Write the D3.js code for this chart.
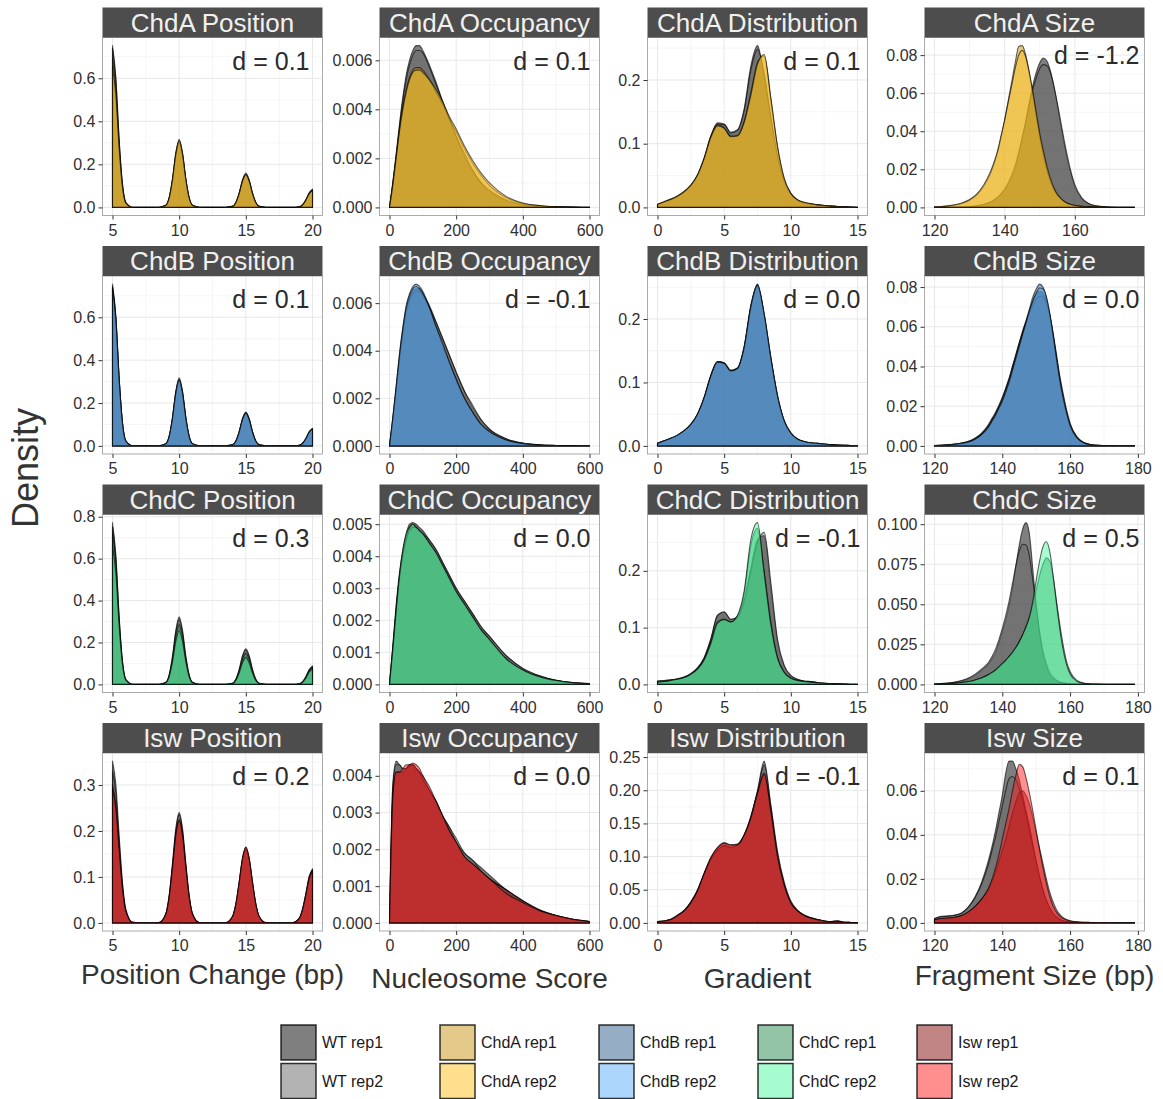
<!DOCTYPE html>
<html><head><meta charset="utf-8">
<script src="https://cdn.jsdelivr.net/npm/d3@7"></script>
<style>body{margin:0;background:#fff;} svg{display:block;}</style>
</head><body>
<svg id="chart" width="1163" height="1099"></svg>
<script>
// ---------------- categories / labels ----------------
const mutants = ["ChdA", "ChdB", "ChdC", "Isw"];
const metrics = ["Position", "Occupancy", "Distribution", "Size"];
const xTitles = ["Position Change (bp)", "Nucleosome Score", "Gradient", "Fragment Size (bp)"];
const yTitle = "Density";
const legendLabels = ["WT rep1","WT rep2","ChdA rep1","ChdA rep2","ChdB rep1","ChdB rep2","ChdC rep1","ChdC rep2","Isw rep1","Isw rep2"];
const wtColors = ["#000000", "#676767"];
const chdAColors = ["#c79515", "#fbbf1d"];
const chdBColors = ["#2b5d8d", "#59adf7"];
const chdCColors = ["#298951", "#4df79f"];
const iswColors = ["#830b0b", "#ff1f1f"];

const dChdA = ["d = 0.1", "d = 0.1", "d = 0.1", "d = -1.2"];
const dChdB = ["d = 0.1", "d = -0.1", "d = 0.0", "d = 0.0"];
const dChdC = ["d = 0.3", "d = 0.0", "d = -0.1", "d = 0.5"];
const dIsw  = ["d = 0.2", "d = 0.0", "d = -0.1", "d = 0.1"];

// tick labels
const xTicksPos = ["5","10","15","20"];
const xTicksOcc = ["0","200","400","600"];
const xTicksDist = ["0","5","10","15"];
const xTicksSizeA = ["120","140","160"];
const xTicksSize = ["120","140","160","180"];
const yTicksChdA = [["0.0","0.2","0.4","0.6"], ["0.000","0.002","0.004","0.006"], ["0.0","0.1","0.2"], ["0.00","0.02","0.04","0.06","0.08"]];
const yTicksChdB = [["0.0","0.2","0.4","0.6"], ["0.000","0.002","0.004","0.006"], ["0.0","0.1","0.2"], ["0.00","0.02","0.04","0.06","0.08"]];
const yTicksChdC = [["0.0","0.2","0.4","0.6","0.8"], ["0.000","0.001","0.002","0.003","0.004","0.005"], ["0.0","0.1","0.2"], ["0.000","0.025","0.050","0.075","0.100"]];
const yTicksIsw  = [["0.0","0.1","0.2","0.3"], ["0.000","0.001","0.002","0.003","0.004"], ["0.00","0.05","0.10","0.15","0.20","0.25"], ["0.00","0.02","0.04","0.06"]];

// ---------------- x grids ----------------
const posX = [5,5.25,5.5,5.75,6,6.5,7.5,8.5,9,9.25,9.5,9.75,10,10.25,10.5,10.75,11,11.5,12.5,13.5,14,14.25,14.5,14.75,15,15.25,15.5,15.75,16,16.5,17.5,18.5,19,19.25,19.5,19.75,20];
const occX = [0,10,20,30,40,50,60,70,80,90,100,120,140,160,180,200,225,250,275,300,350,400,450,500,550,600];
const distX = [0,0.5,1,1.5,2,2.5,3,3.5,4,4.5,5,5.5,6,6.5,7,7.5,8,8.5,9,9.5,10,10.5,11,11.5,12,12.5,13,13.5,14,14.5,15];
const sizeXA = [120,122,124,126,128,130,132,134, 136,137,138,139,140,141,142,143,144,145,146,147,148,149,150,151,152,153,154,155,156,157,158,159,160, 162,164,166,168,170,173,177];
const sizeX  = [120,122,124,126,128,130,132,134, 136,137,138,139,140,141,142,143,144,145,146,147,148,149,150,151,152,153,154,155,156,157,158,159,160, 162,164,166,168,170,174,179];

// ---------------- Position ----------------
const posA_wt1 = [0.752,0.605,0.316,0.108,0.023,0.001,0,0.001,0.0096,0.0443,0.130,0.250,0.31,0.250,0.130,0.0443,0.0096,0.001,0,0.001,0.0048,0.0222,0.0651,0.125,0.155,0.125,0.0651,0.0222,0.0048,0.001,0,0,0.0025,0.0117,0.0344,0.066,0.082];
const posA_wt2 = [0.74,0.596,0.311,0.106,0.023,0.001,0,0.001,0.0098,0.0452,0.133,0.254,0.316,0.254,0.133,0.0452,0.0098,0.001,0,0.001,0.005,0.0229,0.0672,0.129,0.16,0.129,0.0672,0.0229,0.005,0.001,0,0,0.0026,0.0122,0.0357,0.0684,0.085];
const posA_m1 = [0.69,0.555,0.290,0.0987,0.0214,0.001,0,0.001,0.0093,0.0429,0.126,0.2415,0.30,0.2415,0.126,0.0429,0.0093,0.001,0,0.001,0.0047,0.0215,0.063,0.121,0.15,0.121,0.063,0.0215,0.0047,0.001,0,0,0.0025,0.0114,0.0336,0.0644,0.08];
const posA_m2 = [0.65,0.523,0.273,0.093,0.020,0.001,0,0.001,0.0096,0.0443,0.130,0.250,0.31,0.250,0.130,0.0443,0.0096,0.001,0,0.001,0.0047,0.0217,0.0638,0.122,0.152,0.122,0.0638,0.0217,0.0047,0.001,0,0,0.0024,0.0112,0.0328,0.0628,0.078];

const posB_wt1 = [0.755,0.608,0.317,0.108,0.0234,0.001,0,0.001,0.0097,0.0446,0.131,0.251,0.312,0.251,0.131,0.0446,0.0097,0.001,0,0.001,0.0048,0.0223,0.0655,0.1256,0.156,0.1256,0.0655,0.0223,0.0048,0.001,0,0,0.0025,0.0114,0.0336,0.0644,0.08];
const posB_wt2 = [0.745,0.600,0.313,0.1065,0.0231,0.001,0,0.001,0.0099,0.0455,0.1336,0.256,0.318,0.256,0.1336,0.0455,0.0099,0.001,0,0.001,0.0049,0.0226,0.0664,0.1272,0.158,0.1272,0.0664,0.0226,0.0049,0.001,0,0,0.0025,0.0117,0.0344,0.066,0.082];
const posB_m1 = [0.74,0.596,0.311,0.106,0.023,0.001,0,0.001,0.0096,0.0443,0.130,0.250,0.31,0.250,0.130,0.0443,0.0096,0.001,0,0.001,0.0048,0.0222,0.0651,0.125,0.155,0.125,0.0651,0.0222,0.0048,0.001,0,0,0.0025,0.0114,0.0336,0.0644,0.08];
const posB_m2 = [0.73,0.588,0.307,0.104,0.0226,0.001,0,0.001,0.0095,0.0436,0.128,0.2455,0.305,0.2455,0.128,0.0436,0.0095,0.001,0,0.001,0.0047,0.0217,0.0638,0.122,0.152,0.122,0.0638,0.0217,0.0047,0.001,0,0,0.0024,0.0113,0.0332,0.0636,0.079];

const posC_wt1 = [0.772,0.621,0.324,0.110,0.0239,0.001,0,0.001,0.010,0.046,0.135,0.259,0.322,0.259,0.135,0.046,0.010,0.001,0,0.001,0.0053,0.0243,0.0714,0.137,0.17,0.137,0.0714,0.0243,0.0053,0.001,0,0,0.0027,0.0126,0.037,0.0708,0.088];
const posC_wt2 = [0.75,0.604,0.315,0.107,0.0233,0.001,0,0.001,0.0096,0.0443,0.130,0.250,0.31,0.250,0.130,0.0443,0.0096,0.001,0,0.001,0.0051,0.0236,0.0693,0.133,0.165,0.133,0.0693,0.0236,0.0051,0.001,0,0,0.0026,0.0122,0.0357,0.0684,0.085];
const posC_m1 = [0.72,0.580,0.302,0.103,0.0223,0.001,0,0.001,0.0088,0.0408,0.120,0.229,0.285,0.229,0.120,0.0408,0.0088,0.001,0,0.001,0.0046,0.0212,0.0622,0.119,0.148,0.119,0.0622,0.0212,0.0046,0.001,0,0,0.0025,0.0114,0.0336,0.0644,0.08];
const posC_m2 = [0.66,0.531,0.277,0.0944,0.0205,0.001,0,0.001,0.0079,0.0365,0.107,0.205,0.255,0.205,0.107,0.0365,0.0079,0.001,0,0.001,0.004,0.0183,0.0538,0.103,0.128,0.103,0.0538,0.0183,0.004,0.001,0,0,0.0022,0.0103,0.0302,0.058,0.072];

const posI_wt1 = [0.352,0.302,0.190,0.088,0.030,0.0014,0,0.001,0.020,0.060,0.130,0.206,0.24,0.206,0.130,0.060,0.020,0.001,0,0.0007,0.014,0.041,0.089,0.141,0.165,0.141,0.089,0.041,0.014,0.0007,0,0.0005,0.010,0.030,0.064,0.101,0.118];
const posI_wt2 = [0.33,0.283,0.178,0.083,0.028,0.0013,0,0.001,0.020,0.059,0.127,0.201,0.235,0.201,0.127,0.059,0.020,0.001,0,0.0006,0.014,0.041,0.087,0.139,0.162,0.139,0.087,0.041,0.014,0.0006,0,0.0005,0.0098,0.029,0.062,0.099,0.115];
const posI_m1 = [0.30,0.257,0.162,0.075,0.026,0.0012,0,0.001,0.019,0.056,0.122,0.193,0.225,0.193,0.122,0.056,0.019,0.001,0,0.0006,0.0136,0.040,0.086,0.137,0.16,0.137,0.086,0.040,0.0136,0.0006,0,0.0005,0.0098,0.029,0.062,0.099,0.115];
const posI_m2 = [0.29,0.249,0.157,0.073,0.025,0.0012,0,0.001,0.019,0.056,0.120,0.190,0.222,0.190,0.120,0.056,0.019,0.001,0,0.0007,0.014,0.041,0.089,0.141,0.165,0.141,0.089,0.041,0.014,0.0007,0,0.0004,0.0095,0.028,0.060,0.096,0.112];

// ---------------- Occupancy ----------------
const occA_wt1 = [0,0.0010,0.0022,0.0034,0.0045,0.0054,0.0060,0.0064,0.0066,0.0066,0.0064,0.0058,0.0051,0.0043,0.0036,0.0029,0.0021,0.0015,0.0010,0.00066,0.00028,0.00011,0.00005,0.00002,0.00001,0.000005];
const occA_wt2 = [0,0.0010,0.0021,0.0033,0.0044,0.0052,0.0058,0.0062,0.0064,0.0064,0.0063,0.0057,0.0050,0.0043,0.0036,0.0029,0.0022,0.0015,0.0010,0.0007,0.0003,0.00012,0.00005,0.00002,0.00001,0.000005];
const occA_m1 = [0,0.0010,0.0021,0.0032,0.0041,0.0048,0.0053,0.0056,0.0057,0.0057,0.0056,0.0052,0.0047,0.0042,0.0036,0.0031,0.0024,0.0018,0.0013,0.0009,0.0004,0.00016,0.00007,0.00003,0.00001,0.000005];
const occA_m2 = [0,0.0009,0.0020,0.0031,0.0040,0.0047,0.0052,0.0055,0.0056,0.0056,0.0055,0.0052,0.0048,0.0043,0.0037,0.0032,0.0025,0.0019,0.0014,0.0010,0.00045,0.00018,0.00008,0.00003,0.00001,0.000005];

const occB_wt1 = [0,0.0011,0.0024,0.0037,0.0048,0.0057,0.0062,0.0065,0.0066,0.0066,0.0064,0.0059,0.0052,0.0045,0.0038,0.0031,0.0023,0.0016,0.0011,0.0007,0.0003,0.00012,0.00005,0.00002,0.00001,0.000005];
const occB_wt2 = [0,0.0011,0.0023,0.0036,0.0047,0.0056,0.0061,0.0064,0.0065,0.0065,0.0063,0.0058,0.0052,0.0045,0.0038,0.0031,0.0023,0.0017,0.0011,0.0007,0.0003,0.00012,0.00005,0.00002,0.00001,0.000005];
const occB_m1 = [0,0.0012,0.0025,0.0039,0.0050,0.0059,0.0064,0.0067,0.0068,0.0067,0.0065,0.0058,0.0050,0.0042,0.0035,0.0028,0.0020,0.0014,0.0009,0.0006,0.00025,0.0001,0.00004,0.00002,0.00001,0.000005];
const occB_m2 = [0,0.0012,0.0025,0.0038,0.0049,0.0058,0.0063,0.0066,0.0067,0.0066,0.0064,0.0058,0.0050,0.0043,0.0035,0.0028,0.0020,0.0014,0.0009,0.0006,0.00025,0.0001,0.00004,0.00002,0.00001,0.000005];

const occC_wt1 = [0,0.0012,0.0025,0.0035,0.0042,0.0047,0.0050,0.00505,0.0050,0.0049,0.0048,0.0045,0.0042,0.0038,0.0034,0.0030,0.0026,0.0022,0.0018,0.0015,0.0009,0.0005,0.00027,0.00013,0.00006,0.00003];
const occC_wt2 = [0,0.0012,0.0024,0.0034,0.0041,0.0046,0.0049,0.0050,0.0049,0.0048,0.0047,0.0045,0.0042,0.0038,0.0034,0.0030,0.0026,0.0022,0.0018,0.0015,0.0009,0.0005,0.00027,0.00013,0.00006,0.00003];
const occC_m1 = [0,0.0011,0.0023,0.0033,0.0040,0.0045,0.0048,0.0049,0.0049,0.0048,0.0047,0.0044,0.0041,0.0037,0.0033,0.0029,0.0025,0.0021,0.0017,0.0014,0.0008,0.00045,0.00024,0.00012,0.00005,0.00002];
const occC_m2 = [0,0.0011,0.0023,0.0034,0.0042,0.0047,0.0049,0.0050,0.0049,0.0048,0.0047,0.0044,0.0041,0.0037,0.0033,0.0029,0.0025,0.0021,0.0017,0.0014,0.0008,0.00045,0.00024,0.00012,0.00005,0.00002];

const occI_wt1 = [0,0.0038,0.0044,0.0043,0.0042,0.0042,0.0043,0.0043,0.0042,0.0041,0.0039,0.0036,0.0033,0.0029,0.0026,0.0022,0.0019,0.0017,0.0015,0.0013,0.0009,0.0006,0.00036,0.0002,0.0001,0.00004];
const occI_wt2 = [0,0.0037,0.0043,0.0043,0.0042,0.0042,0.00425,0.0043,0.0042,0.0041,0.0039,0.0036,0.0033,0.0029,0.0026,0.0023,0.0019,0.0017,0.0014,0.0012,0.0009,0.0006,0.00035,0.0002,0.0001,0.00004];
const occI_m1 = [0,0.0035,0.0041,0.0041,0.0041,0.0042,0.0043,0.0043,0.0042,0.0041,0.0040,0.0036,0.0033,0.0029,0.0025,0.0022,0.0018,0.0016,0.0014,0.0012,0.0009,0.0006,0.00035,0.0002,0.0001,0.00004];
const occI_m2 = [0,0.0034,0.0041,0.0041,0.0042,0.0043,0.0043,0.00435,0.0043,0.0042,0.0040,0.0037,0.0033,0.0029,0.0025,0.0022,0.0018,0.0016,0.0014,0.0012,0.0008,0.00055,0.00033,0.0002,0.0001,0.00004];

// ---------------- Distribution ----------------
const distA_wt1 = [0.004,0.008,0.012,0.017,0.024,0.034,0.050,0.077,0.112,0.133, 0.131,0.118,0.122,0.155,0.222,0.254,0.205,0.140,0.080,0.040, 0.020,0.011,0.007,0.005,0.004,0.003,0.002,0.0015,0.001,0.0005, 0.0002];
const distA_wt2 = [0.004,0.008,0.012,0.017,0.024,0.034,0.050,0.076,0.110,0.131, 0.130,0.117,0.121,0.152,0.215,0.248,0.210,0.142,0.082,0.041, 0.021,0.011,0.007,0.005,0.004,0.003,0.002,0.0015,0.001,0.0005, 0.0002];
const distA_m1 = [0.005,0.009,0.013,0.018,0.025,0.035,0.051,0.078,0.112,0.130, 0.125,0.112,0.113,0.135,0.180,0.228,0.238,0.170,0.095,0.045, 0.022,0.012,0.008,0.006,0.004,0.003,0.002,0.0015,0.001,0.0005, 0.0002];
const distA_m2 = [0.005,0.009,0.013,0.018,0.025,0.035,0.051,0.077,0.110,0.128, 0.124,0.111,0.112,0.133,0.176,0.225,0.240,0.172,0.096,0.046, 0.022,0.012,0.008,0.006,0.004,0.003,0.002,0.0015,0.001,0.0005, 0.0002];

const distB_wt1 = [0.004,0.008,0.012,0.017,0.024,0.034,0.050,0.077,0.112,0.133, 0.131,0.119,0.123,0.157,0.222,0.254,0.205,0.138,0.078,0.039, 0.020,0.011,0.007,0.005,0.004,0.003,0.002,0.0015,0.001,0.0005, 0.0002];
const distB_wt2 = [0.004,0.008,0.012,0.017,0.024,0.034,0.050,0.076,0.110,0.132, 0.130,0.118,0.122,0.155,0.218,0.251,0.208,0.140,0.080,0.040, 0.021,0.011,0.007,0.005,0.004,0.003,0.002,0.0015,0.001,0.0005, 0.0002];
const distB_m1 = [0.004,0.008,0.012,0.017,0.024,0.034,0.050,0.076,0.111,0.133, 0.131,0.119,0.123,0.156,0.220,0.255,0.207,0.138,0.078,0.039, 0.020,0.011,0.007,0.005,0.004,0.003,0.002,0.0015,0.001,0.0005, 0.0002];
const distB_m2 = [0.004,0.008,0.012,0.017,0.024,0.034,0.050,0.076,0.110,0.132, 0.130,0.118,0.122,0.155,0.219,0.253,0.208,0.139,0.079,0.040, 0.020,0.011,0.007,0.005,0.004,0.003,0.002,0.0015,0.001,0.0005, 0.0002];

const distC_wt1 = [0.006,0.007,0.008,0.010,0.013,0.019,0.029,0.047,0.080,0.122, 0.127,0.114,0.120,0.150,0.205,0.255,0.262,0.170,0.075,0.032, 0.015,0.009,0.006,0.005,0.003,0.002,0.0015,0.001,0.0007,0.0004, 0.0002];
const distC_wt2 = [0.006,0.007,0.008,0.010,0.013,0.019,0.029,0.047,0.080,0.121, 0.128,0.115,0.118,0.145,0.198,0.250,0.268,0.180,0.080,0.034, 0.016,0.009,0.006,0.005,0.003,0.002,0.0015,0.001,0.0007,0.0004, 0.0002];
const distC_m1 = [0.004,0.005,0.007,0.009,0.012,0.018,0.027,0.044,0.074,0.110, 0.115,0.110,0.120,0.160,0.245,0.275,0.200,0.110,0.048,0.022, 0.011,0.007,0.005,0.004,0.003,0.002,0.0012,0.0008,0.0005,0.0003, 0.0001];
const distC_m2 = [0.004,0.005,0.007,0.009,0.012,0.018,0.027,0.043,0.072,0.108, 0.114,0.110,0.122,0.165,0.255,0.285,0.195,0.105,0.046,0.021, 0.011,0.007,0.005,0.004,0.003,0.002,0.0012,0.0008,0.0005,0.0003, 0.0001];

const distI_wt1 = [0.002,0.003,0.0055,0.012,0.019,0.032,0.050,0.075,0.097,0.110, 0.117,0.114,0.118,0.133,0.160,0.200,0.244,0.176,0.105,0.060, 0.032,0.019,0.012,0.008,0.005,0.003,0.002,0.003,0.001,0.0007, 0.0005];
const distI_wt2 = [0.002,0.003,0.0055,0.011,0.019,0.031,0.049,0.074,0.096,0.109, 0.116,0.114,0.117,0.132,0.160,0.198,0.238,0.178,0.108,0.062, 0.033,0.019,0.012,0.008,0.005,0.003,0.002,0.003,0.001,0.0007, 0.0005];
const distI_m1 = [0.002,0.003,0.005,0.011,0.018,0.031,0.049,0.075,0.099,0.114, 0.121,0.118,0.119,0.133,0.160,0.196,0.226,0.170,0.100,0.057, 0.030,0.018,0.011,0.007,0.005,0.003,0.002,0.0025,0.001,0.0007, 0.0005];
const distI_m2 = [0.002,0.003,0.005,0.011,0.018,0.030,0.048,0.074,0.098,0.113, 0.120,0.117,0.118,0.132,0.158,0.195,0.224,0.168,0.100,0.057, 0.030,0.018,0.011,0.007,0.005,0.003,0.002,0.0025,0.001,0.0007, 0.0005];

// ---------------- Size ----------------
const sizeA_wt1 = [0.0001,0.0001,0.0002,0.0002,0.0003,0.0004,0.0008,0.0015,
  0.0027,0.0037,0.005,0.0068,0.009,0.012,0.016,0.021,0.028,0.036,0.045,0.055,0.064,0.071,0.076,0.0784,0.077,0.072,0.064,0.054,0.043,0.033,0.024,0.017,0.011,
  0.0045,0.0018,0.0008,0.0004,0.0002,0.0001,0];
const sizeA_wt2 = [0.0001,0.0001,0.0002,0.0002,0.0003,0.0005,0.0009,0.0017,
  0.003,0.004,0.0055,0.0074,0.0098,0.013,0.017,0.022,0.029,0.037,0.045,0.054,0.062,0.068,0.073,0.075,0.0745,0.071,0.064,0.055,0.045,0.035,0.026,0.018,0.012,
  0.005,0.002,0.0009,0.0004,0.0002,0.0001,0];
const sizeA_m1 = [0.0003,0.0005,0.0008,0.0013,0.0022,0.0038,0.0065,0.011,
  0.018,0.023,0.029,0.037,0.046,0.056,0.066,0.076,0.0845,0.0850,0.080,0.071,0.060,0.048,0.037,0.028,0.020,0.014,0.0095,0.0065,0.0045,0.003,0.002,0.0014,0.001,
  0.0006,0.0004,0.0003,0.0002,0.0001,0.0001,0];
const sizeA_m2 = [0.0003,0.0005,0.0009,0.0015,0.0025,0.0042,0.007,0.0118,
  0.019,0.024,0.030,0.038,0.046,0.055,0.064,0.073,0.080,0.0825,0.079,0.071,0.061,0.050,0.039,0.030,0.022,0.0155,0.0105,0.007,0.0048,0.0032,0.0021,0.0015,0.001,
  0.0006,0.0004,0.0003,0.0002,0.0001,0.0001,0];

const sizeB_wt1 = [0.0002,0.0003,0.0005,0.0009,0.0014,0.0022,0.0038,0.0064,
  0.0105,0.0135,0.0165,0.020,0.024,0.029,0.034,0.040,0.046,0.052,0.058,0.063,0.068,0.073,0.0765,0.078,0.077,0.073,0.066,0.056,0.045,0.034,0.025,0.017,0.011,
  0.0045,0.0017,0.0007,0.0003,0.0002,0.0001,0];
const sizeB_wt2 = [0.0002,0.0003,0.0005,0.0009,0.0014,0.0023,0.004,0.0066,
  0.011,0.014,0.017,0.0205,0.0245,0.029,0.034,0.040,0.046,0.052,0.057,0.062,0.067,0.071,0.074,0.0755,0.075,0.072,0.066,0.057,0.046,0.035,0.026,0.018,0.0115,
  0.0047,0.0018,0.0007,0.0003,0.0002,0.0001,0];
const sizeB_m1 = [0.0002,0.0003,0.0005,0.0008,0.0013,0.002,0.0035,0.006,
  0.010,0.013,0.016,0.0195,0.023,0.028,0.033,0.039,0.045,0.051,0.057,0.063,0.069,0.075,0.079,0.0815,0.080,0.075,0.066,0.055,0.043,0.032,0.023,0.016,0.010,
  0.004,0.0015,0.0006,0.0003,0.0002,0.0001,0];
const sizeB_m2 = [0.0002,0.0003,0.0005,0.0008,0.0013,0.002,0.0034,0.0058,
  0.0097,0.0125,0.0155,0.019,0.0225,0.027,0.032,0.038,0.044,0.050,0.056,0.062,0.068,0.073,0.077,0.0795,0.079,0.075,0.067,0.056,0.044,0.033,0.024,0.0165,0.0105,
  0.0042,0.0016,0.0006,0.0003,0.0002,0.0001,0];

const sizeC_wt1 = [0.0003,0.0005,0.0008,0.0013,0.0022,0.0036,0.0058,0.0090,
  0.013,0.016,0.020,0.026,0.033,0.040,0.049,0.060,0.074,0.087,0.097,0.101,0.094,0.072,0.050,0.032,0.019,0.011,0.006,0.0035,0.002,0.0012,0.0008,0.0005,0.0003,
  0.0002,0.0001,0.0001,0,0,0,0];
const sizeC_wt2 = [0.0003,0.0005,0.0009,0.0015,0.0025,0.004,0.0064,0.0098,
  0.014,0.0175,0.022,0.028,0.035,0.043,0.052,0.063,0.074,0.083,0.0875,0.087,0.080,0.065,0.048,0.033,0.021,0.013,0.0075,0.0045,0.0026,0.0015,0.0009,0.0006,0.0004,
  0.0002,0.0001,0.0001,0,0,0,0];
const sizeC_m1 = [0.0002,0.0003,0.0005,0.0008,0.0012,0.0018,0.0028,0.0042,
  0.0062,0.0075,0.009,0.011,0.013,0.015,0.0175,0.020,0.023,0.027,0.031,0.036,0.042,0.050,0.059,0.068,0.075,0.079,0.077,0.067,0.052,0.037,0.024,0.014,0.008,
  0.0025,0.0009,0.0004,0.0002,0.0001,0.0001,0];
const sizeC_m2 = [0.0002,0.0003,0.0005,0.0008,0.0012,0.0018,0.0028,0.0042,
  0.0062,0.0075,0.009,0.011,0.013,0.015,0.0175,0.020,0.023,0.0265,0.031,0.036,0.042,0.052,0.065,0.077,0.086,0.089,0.083,0.068,0.050,0.034,0.021,0.012,0.0065,
  0.002,0.0007,0.0003,0.0002,0.0001,0.0001,0];

const sizeI_wt1 = [0.002,0.003,0.0032,0.0036,0.0045,0.0073,0.012,0.019,
  0.029,0.035,0.042,0.050,0.058,0.068,0.0735,0.0735,0.070,0.065,0.058,0.051,0.044,0.036,0.028,0.021,0.015,0.010,0.0065,0.004,0.0025,0.0015,0.001,0.0006,0.0004,
  0.0002,0.0001,0.0001,0,0,0,0];
const sizeI_wt2 = [0.002,0.0028,0.003,0.0035,0.0045,0.0072,0.0115,0.018,
  0.027,0.033,0.039,0.046,0.053,0.060,0.0655,0.0665,0.065,0.061,0.056,0.049,0.042,0.035,0.028,0.021,0.015,0.0105,0.007,0.0045,0.0028,0.0017,0.001,0.0007,0.0004,
  0.0002,0.0001,0.0001,0,0,0,0];
const sizeI_m1 = [0.0015,0.002,0.0022,0.0026,0.0034,0.005,0.0075,0.011,
  0.0155,0.019,0.023,0.028,0.033,0.038,0.044,0.050,0.055,0.059,0.060,0.058,0.054,0.048,0.041,0.034,0.027,0.020,0.014,0.0095,0.006,0.0038,0.0024,0.0015,0.001,
  0.0005,0.0003,0.0002,0.0001,0.0001,0,0];
const sizeI_m2 = [0.0015,0.002,0.0022,0.0026,0.0034,0.005,0.0075,0.011,
  0.016,0.020,0.025,0.031,0.038,0.045,0.052,0.060,0.067,0.072,0.071,0.066,0.059,0.051,0.042,0.033,0.025,0.018,0.012,0.0075,0.0048,0.003,0.002,0.0013,0.0009,
  0.0005,0.0003,0.0002,0.0001,0.0001,0,0];

// ---------------- assemble panels from the named arrays ----------------
const panelRows = [
  { colors: chdAColors, d: dChdA, yt: yTicksChdA, panels: [
    { x: posX, xt: xTicksPos, s: [posA_wt1, posA_wt2, posA_m1, posA_m2] },
    { x: occX, xt: xTicksOcc, s: [occA_wt1, occA_wt2, occA_m1, occA_m2] },
    { x: distX, xt: xTicksDist, s: [distA_wt1, distA_wt2, distA_m1, distA_m2] },
    { x: sizeXA, xt: xTicksSizeA, s: [sizeA_wt1, sizeA_wt2, sizeA_m1, sizeA_m2] } ] },
  { colors: chdBColors, d: dChdB, yt: yTicksChdB, panels: [
    { x: posX, xt: xTicksPos, s: [posB_wt1, posB_wt2, posB_m1, posB_m2] },
    { x: occX, xt: xTicksOcc, s: [occB_wt1, occB_wt2, occB_m1, occB_m2] },
    { x: distX, xt: xTicksDist, s: [distB_wt1, distB_wt2, distB_m1, distB_m2] },
    { x: sizeX, xt: xTicksSize, s: [sizeB_wt1, sizeB_wt2, sizeB_m1, sizeB_m2] } ] },
  { colors: chdCColors, d: dChdC, yt: yTicksChdC, panels: [
    { x: posX, xt: xTicksPos, s: [posC_wt1, posC_wt2, posC_m1, posC_m2] },
    { x: occX, xt: xTicksOcc, s: [occC_wt1, occC_wt2, occC_m1, occC_m2] },
    { x: distX, xt: xTicksDist, s: [distC_wt1, distC_wt2, distC_m1, distC_m2] },
    { x: sizeX, xt: xTicksSize, s: [sizeC_wt1, sizeC_wt2, sizeC_m1, sizeC_m2] } ] },
  { colors: iswColors, d: dIsw, yt: yTicksIsw, panels: [
    { x: posX, xt: xTicksPos, s: [posI_wt1, posI_wt2, posI_m1, posI_m2] },
    { x: occX, xt: xTicksOcc, s: [occI_wt1, occI_wt2, occI_m1, occI_m2] },
    { x: distX, xt: xTicksDist, s: [distI_wt1, distI_wt2, distI_m1, distI_m2] },
    { x: sizeX, xt: xTicksSize, s: [sizeI_wt1, sizeI_wt2, sizeI_m1, sizeI_m2] } ] }
];

// ---------------- drawing ----------------
const FONT = "'Liberation Sans', Arial, Helvetica, sans-serif";
const svg = d3.select("#chart");
svg.append("rect").attr("width", 1163).attr("height", 1099).attr("fill", "#ffffff");

const colLeft = [102.5, 379.5, 647.5, 924.5];
const stripTop = [7.5, 246, 484.5, 723];
const PW = 220, PH = 178, SH = 30;
const labelInset = [13, 9, 7, 5];

function minorTicks(t, dom) {
  const step = t[1] - t[0];
  const out = [];
  for (let k = -1; k <= t.length; k++) {
    const v = t[0] + step * (k + 0.5);
    if (v > dom[0] && v < dom[1]) out.push(v);
  }
  return out;
}

panelRows.forEach((row, r) => {
  row.panels.forEach((p, c) => {
    const left = colLeft[c], right = left + PW;
    const st = stripTop[r], top = st + SH, bottom = top + PH;
    const [x0, x1] = d3.extent(p.x);
    const xp = (x1 - x0) * 0.05;
    const x = d3.scaleLinear().domain([x0 - xp, x1 + xp]).range([left, right]);
    const ymax = d3.max(p.s, s => d3.max(s));
    const y = d3.scaleLinear().domain([-0.05 * ymax, 1.05 * ymax]).range([bottom, top]);
    const xtLab = p.xt, ytLab = row.yt[c];
    const xt = xtLab.map(Number), yt = ytLab.map(Number);
    const g = svg.append("g");

    g.append("rect").attr("x", left).attr("y", top).attr("width", PW).attr("height", PH).attr("fill", "#ffffff");

    // grid
    minorTicks(xt, x.domain()).forEach(v => g.append("line")
      .attr("x1", x(v)).attr("x2", x(v)).attr("y1", top).attr("y2", bottom)
      .attr("stroke", "#f3f3f3").attr("stroke-width", 0.8));
    minorTicks(yt, y.domain()).forEach(v => g.append("line")
      .attr("y1", y(v)).attr("y2", y(v)).attr("x1", left).attr("x2", right)
      .attr("stroke", "#f3f3f3").attr("stroke-width", 0.8));
    xt.forEach(v => g.append("line")
      .attr("x1", x(v)).attr("x2", x(v)).attr("y1", top).attr("y2", bottom)
      .attr("stroke", "#e8e8e8").attr("stroke-width", 1));
    yt.forEach(v => g.append("line")
      .attr("y1", y(v)).attr("y2", y(v)).attr("x1", left).attr("x2", right)
      .attr("stroke", "#e8e8e8").attr("stroke-width", 1));

    // densities
    const colors = [wtColors[0], wtColors[1], row.colors[0], row.colors[1]];
    const area = d3.area()
      .x((d, i) => x(p.x[i]))
      .y0(y(0))
      .y1(d => y(d))
      .curve(d3.curveMonotoneX);
    p.s.forEach((s, k) => {
      g.append("path").datum(s).attr("d", area)
        .attr("fill", colors[k]).attr("fill-opacity", 0.5)
        .attr("stroke", "#000").attr("stroke-opacity", 0.6).attr("stroke-width", 1.1)
        .attr("stroke-linejoin", "round");
    });

    // border
    g.append("rect").attr("x", left).attr("y", top).attr("width", PW).attr("height", PH)
      .attr("fill", "none").attr("stroke", "#ababab").attr("stroke-width", 1);

    // axes
    const xa = g.append("g").attr("transform", `translate(0,${bottom})`)
      .call(d3.axisBottom(x).tickValues(xt).tickFormat((d, i) => xtLab[i]).tickSizeInner(4).tickSizeOuter(0).tickPadding(5));
    const ya = g.append("g").attr("transform", `translate(${left},0)`)
      .call(d3.axisLeft(y).tickValues(yt).tickFormat((d, i) => ytLab[i]).tickSizeInner(4).tickSizeOuter(0).tickPadding(3));
    [xa, ya].forEach(a => {
      a.select(".domain").remove();
      a.selectAll(".tick line").attr("stroke", "#333").attr("stroke-width", 1);
      a.selectAll(".tick text").attr("font-family", FONT).attr("font-size", "16px").attr("fill", "#303030");
    });

    // strip
    g.append("rect").attr("x", left).attr("y", st).attr("width", PW).attr("height", SH).attr("fill", "#4d4d4d");
    g.append("text").attr("x", left + PW / 2).attr("y", st + 24)
      .attr("text-anchor", "middle").attr("font-family", FONT).attr("font-size", "26px")
      .attr("fill", "#f0f0f0").text(mutants[r] + " " + metrics[c]);

    // effect size annotation
    const dy = (r === 0 && c === 3) ? 26 : 32;
    g.append("text").attr("x", right - labelInset[c]).attr("y", top + dy)
      .attr("text-anchor", "end").attr("font-family", FONT).attr("font-size", "25px")
      .attr("fill", "#2b2b2b").text(row.d[c]);
  });
});

// axis titles
const titleBase = [984, 988, 988, 985];
xTitles.forEach((t, c) => {
  svg.append("text").attr("x", colLeft[c] + PW / 2).attr("y", titleBase[c])
    .attr("text-anchor", "middle").attr("font-family", FONT).attr("font-size", "28px")
    .attr("fill", "#333").text(t);
});
svg.append("text").attr("transform", "translate(38,468) rotate(-90)")
  .attr("text-anchor", "middle").attr("font-family", FONT).attr("font-size", "36px")
  .attr("fill", "#333").text(yTitle);

// legend
const legendColors = [wtColors, chdAColors, chdBColors, chdCColors, iswColors].flat();
legendLabels.forEach((lab, i) => {
  const col = Math.floor(i / 2), rw = i % 2;
  const kx = 281 + col * 159, ky = 1025 + rw * 38.5;
  svg.append("rect").attr("x", kx).attr("y", ky).attr("width", 35).attr("height", 35)
    .attr("fill", legendColors[i]).attr("fill-opacity", 0.5)
    .attr("stroke", "#000").attr("stroke-opacity", 0.8).attr("stroke-width", 1.5);
  svg.append("text").attr("x", kx + 41).attr("y", ky + 17.5).attr("dy", "0.35em")
    .attr("font-family", FONT).attr("font-size", "16px").attr("fill", "#1a1a1a").text(lab);
});
</script>
</body></html>
